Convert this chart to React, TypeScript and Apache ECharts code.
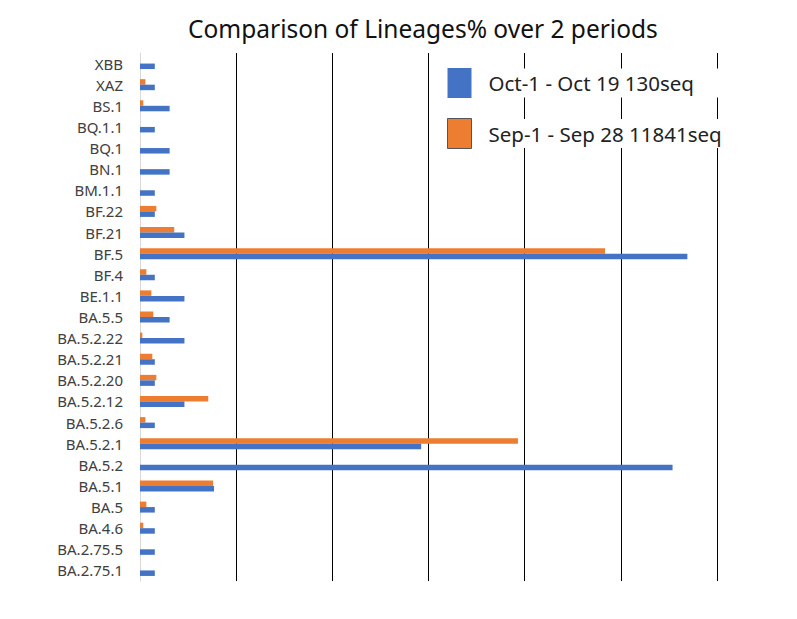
import React, { useEffect, useRef } from "react";
import * as echarts from "echarts";

const categories = [
  "BA.2.75.1", "BA.2.75.5", "BA.4.6", "BA.5", "BA.5.1", "BA.5.2", "BA.5.2.1",
  "BA.5.2.6", "BA.5.2.12", "BA.5.2.20", "BA.5.2.21", "BA.5.2.22", "BA.5.5",
  "BE.1.1", "BF.4", "BF.5", "BF.21", "BF.22", "BM.1.1", "BN.1", "BQ.1",
  "BQ.1.1", "BS.1", "XAZ", "XBB",
];

const octValues = [
  0.77, 0.77, 0.77, 0.77, 3.85, 27.69, 14.62,
  0.77, 2.31, 0.77, 0.77, 2.31, 1.54,
  2.31, 0.77, 28.46, 2.31, 0.77, 0.77, 1.54, 1.54,
  0.77, 1.54, 0.77, 0.77,
];

const sepValues = [
  0, 0, 0.17, 0.33, 3.8, 0, 19.65,
  0.28, 3.55, 0.85, 0.64, 0.12, 0.69,
  0.59, 0.33, 24.18, 1.78, 0.85, 0, 0, 0,
  0, 0.17, 0.28, 0,
];

const octName = "Oct-1 - Oct 19 130seq";
const sepName = "Sep-1 - Sep 28 11841seq";
const titleText = "Comparison of Lineages% over 2 periods";

const FONT = "'Noto Sans', 'Open Sans', sans-serif";

export default function App() {
  const ref = useRef<HTMLDivElement>(null);
  useEffect(() => {
    if (!ref.current) return;
    const chart = echarts.init(ref.current, null, { renderer: "svg" });
    chart.setOption({
      animation: false,
      backgroundColor: "#ffffff",
      textStyle: { fontFamily: FONT },
      title: {
        text: titleText,
        left: 183,
        top: 11,
        textStyle: { fontSize: 24.5, fontWeight: "normal", color: "#111", fontFamily: FONT },
      },
      legend: {
        orient: "vertical",
        left: 442,
        top: 63,
        icon: "rect",
        itemWidth: 24,
        itemHeight: 30,
        itemGap: 20,
        selectedMode: false,
        data: [
          { name: octName, itemStyle: { color: "#4472C4" } },
          { name: sepName, itemStyle: { color: "#ED7D31", borderColor: "#555", borderWidth: 1 } },
        ],
        textStyle: {
          fontSize: 20.5,
          color: "#222",
          fontFamily: FONT,
          backgroundColor: "#fff",
          padding: [4, 0, 4, 12],
          width: 250,
        },
      },
      grid: { left: 140, right: 80, top: 53, bottom: 38, containLabel: false },
      xAxis: {
        type: "value",
        min: 0,
        max: 30,
        interval: 5,
        axisLabel: { show: false },
        axisLine: { show: false },
        axisTick: { show: false },
        splitLine: { show: true, showMinLine: false, lineStyle: { color: "#000", width: 1 } },
      },
      yAxis: {
        type: "category",
        data: categories,
        axisLine: { show: true, lineStyle: { color: "#d9d9d9", width: 1 } },
        axisTick: { show: false },
        axisLabel: { fontSize: 15, color: "#404040", margin: 17, fontFamily: FONT },
      },
      series: [
        {
          name: sepName,
          type: "bar",
          data: sepValues,
          barWidth: 5.5,
          barGap: "0%",
          itemStyle: { color: "#ED7D31" },
        },
        {
          name: octName,
          type: "bar",
          data: octValues,
          barWidth: 5.5,
          barGap: "0%",
          itemStyle: { color: "#4472C4" },
        },
      ],
    });
    return () => chart.dispose();
  }, []);
  return (
    <div
      ref={ref}
      style={{ position: "fixed", left: 0, top: 0, width: 797, height: 619 }}
    />
  );
}
